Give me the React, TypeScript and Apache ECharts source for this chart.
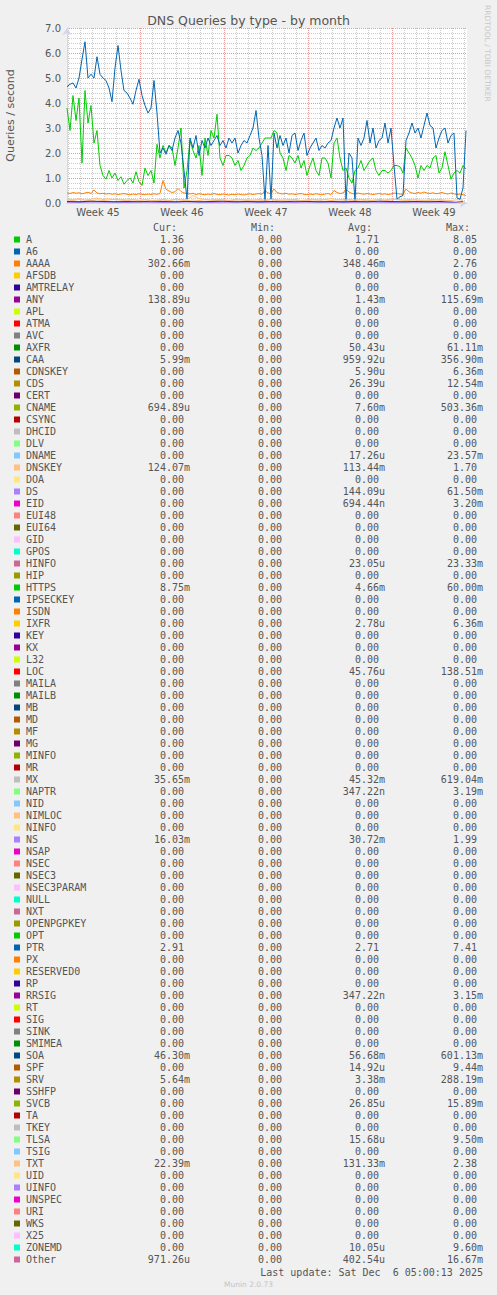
import React, { useEffect, useRef } from 'react';
import * as echarts from 'echarts';

// ---- time axis: hours since the left edge of the graph (2 hours per pixel, 800 h wide)
const WEEK_LABELS = ['Week 45', 'Week 46', 'Week 47', 'Week 48', 'Week 49'];
const WEEK_CENTERS = [62, 230, 398, 566, 734];
const Y_TICKS = ['0.0', '1.0', '2.0', '3.0', '4.0', '5.0', '6.0', '7.0'];

// ---- series values (queries / second)
// A and PTR: one value every 6 hours
const A_VALUES = [
  3.8, 2.9, 4.3, 3.3, 4.2, 1.6, 4.5, 3.2, 3.9, 2.4,
  2.9, 1.5, 1.1, 0.95, 1.3, 1.0, 1.2, 0.9, 1.05, 0.75,
  0.9, 1.0, 0.8, 1.25, 0.85, 0.7, 1.4, 1.1, 1.3, 0.8,
  2.35, 1.8, 2.3, 2.0, 2.3, 2.2,
  1.5, 2.2, 3.0, 0.6, 1.3, 2.5, 2.1, 1.8, 2.3, 1.1,
  2.6, 1.9, 2.9, 2.6, 3.55, 1.8, 1.5, 1.9, 1.9, 1.8,
  1.5, 1.7, 1.3, 1.5, 1.8, 1.9, 2.2, 2.1, 2.2, 2.4,
  2.6, 2.6, 2.6,
  2.9, 2.8, 2.0, 1.8, 1.3, 1.9, 1.8, 1.6, 1.9, 1.4,
  1.7, 1.1, 1.5, 1.8, 1.3, 1.1, 1.8, 1.8, 1.6, 1.0,
  2.4, 2.6, 1.8, 1.3, 1.4, 1.0, 0.8, 1.3, 1.4, 1.7,
  1.3, 1.5, 1.7, 1.8,
  1.3, 1.1, 1.3, 1.3, 1.2, 1.3, 1.5, 1.5, 1.45, 1.2,
  2.2, 2.0, 1.8, 1.5, 1.0, 1.5, 1.3, 1.5, 1.4, 1.8,
  1.9, 1.2, 1.4, 2.05, 1.5, 0.95, 1.2, 1.3, 1.2, 1.5,
  1.36,
];
const PTR_VALUES = [
  4.65, 4.75, 4.8, 4.6, 5.0, 5.75, 6.45, 5.0, 5.15, 5.0,
  5.85, 5.15, 5.0, 4.9, 4.6, 4.05, 5.4, 6.3, 5.3, 4.5,
  4.4, 4.2, 3.95, 4.5, 4.95, 4.3, 3.9, 3.6, 3.8, 4.9,
  3.6, 2.0, 2.2, 1.95, 2.3, 2.1,
  2.6, 2.9, 2.4, 1.3, 0.15, 2.6, 2.2, 2.7, 1.9, 2.5,
  2.2, 2.6, 2.3, 2.5, 2.7, 2.3, 2.5, 2.2, 2.6, 2.4,
  2.6, 2.0, 2.3, 2.5, 2.4, 2.7, 3.0, 3.7, 2.6, 1.9,
  0.1, 2.3, 0.15,
  2.8, 2.2, 2.7, 2.3, 2.6, 2.0, 2.7, 2.8, 2.1, 2.5,
  2.8, 1.9, 2.2, 2.4, 2.6, 2.1, 2.3, 2.2, 2.4, 2.5,
  3.0, 3.4, 3.0, 3.4, 0.1, 2.0, 1.8, 0.1, 2.6, 2.3,
  2.6, 3.3, 2.4, 3.0,
  2.2, 2.5, 2.6, 3.2, 2.4, 3.0, 1.5, 0.15, 0.25, 0.3,
  2.5, 2.8, 3.2, 2.8, 3.0, 2.6, 3.1, 3.6, 3.1, 3.0,
  2.2, 2.6, 2.9, 3.0, 2.4, 2.7, 2.8, 0.2, 0.15, 0.6,
  2.9,
];
const AAAA_VALUES = [
  0.40, 0.38, 0.42, 0.39, 0.41, 0.37, 0.40, 0.43, 0.38, 0.52,
  0.40, 0.37, 0.39, 0.36, 0.38, 0.35, 0.37, 0.34, 0.36, 0.38,
  0.35, 0.33, 0.36, 0.34, 0.37, 0.35, 0.33, 0.36, 0.34, 0.37,
  0.35, 0.38, 0.90, 0.55, 0.48, 0.42,
  0.45, 0.58, 0.46, 0.40, 0.38, 0.36, 0.39, 0.34, 0.37, 0.35,
  0.33, 0.36, 0.34, 0.38, 0.35, 0.33, 0.36, 0.34, 0.32, 0.35,
  0.33, 0.36, 0.34, 0.32, 0.35, 0.37, 0.34, 0.36, 0.38, 0.35,
  0.50, 0.40, 0.37,
  0.56, 0.42, 0.38, 0.36, 0.39, 0.35, 0.37, 0.34, 0.36, 0.38,
  0.35, 0.33, 0.36, 0.34, 0.37, 0.35, 0.33, 0.36, 0.38, 0.34,
  0.50, 0.42, 0.38, 0.40, 0.55, 0.44, 0.38, 0.36, 0.40, 0.37,
  0.35, 0.38, 0.36, 0.34,
  0.36, 0.38, 0.35, 0.37, 0.34, 0.36, 0.40, 0.38, 0.36, 0.35,
  0.56, 0.45, 0.40, 0.38, 0.42, 0.39, 0.44, 0.40, 0.38, 0.41,
  0.37, 0.39, 0.42, 0.38, 0.36, 0.40, 0.37, 0.34, 0.36, 0.33,
  0.30,
];
// DNSKEY and TXT: one value every 12 hours
const DNSKEY_VALUES = [
  0.12, 0.10, 0.14, 0.11, 0.09, 0.13, 0.10, 0.12, 0.15, 0.11,
  0.09, 0.12, 0.10, 0.13, 0.11, 0.08, 0.12, 0.10, 0.14, 0.11,
  0.09, 0.12, 0.10, 0.13, 0.11, 0.10, 0.12, 0.09, 0.11, 0.13,
  0.10, 0.12, 0.11, 0.09, 0.13, 0.10, 0.12, 0.11, 0.14, 0.10,
  0.09, 0.12, 0.11, 0.13, 0.10, 0.12, 0.15, 0.11, 0.10, 0.12,
  0.09, 0.11, 0.13, 0.10, 0.12, 0.16, 0.11, 0.10, 0.13, 0.12,
  0.10, 0.11, 0.14, 0.12, 0.10, 0.13, 0.12,
];
const TXT_VALUES = [
  0.16, 0.13, 0.18, 0.12, 0.15, 0.20, 0.14, 0.17, 0.13, 0.15,
  0.12, 0.14, 0.11, 0.13, 0.10, 0.12, 0.14, 0.11, 0.13, 0.15,
  0.12, 0.30, 0.18, 0.14, 0.12, 0.15, 0.13, 0.11, 0.14, 0.12,
  0.13, 0.11, 0.14, 0.12, 0.15, 0.13, 0.11, 0.14, 0.12, 0.10,
  0.13, 0.15, 0.12, 0.14, 0.18, 0.13, 0.11, 0.14, 0.12, 0.15,
  0.13, 0.11, 0.14, 0.12, 0.16, 0.13, 0.11, 0.14, 0.12, 0.10,
  0.12, 0.14, 0.11, 0.09, 0.08, 0.05, 0.02,
];
// MX, NS, SOA: one value a day
const MX_VALUES = [
  0.04, 0.05, 0.04, 0.06, 0.05, 0.04, 0.05, 0.03, 0.05, 0.04,
  0.06, 0.05, 0.04, 0.05, 0.04, 0.03, 0.05, 0.04, 0.06, 0.05,
  0.04, 0.05, 0.04, 0.05, 0.03, 0.04, 0.05, 0.06, 0.04, 0.05,
  0.04, 0.05, 0.04, 0.04,
];
const NS_VALUES = [
  0.03, 0.02, 0.04, 0.03, 0.03, 0.02, 0.04, 0.03, 0.02, 0.03,
  0.04, 0.03, 0.02, 0.03, 0.03, 0.04, 0.02, 0.03, 0.03, 0.02,
  0.04, 0.03, 0.03, 0.02, 0.03, 0.04, 0.03, 0.02, 0.03, 0.03,
  0.04, 0.03, 0.02, 0.02,
];
const SOA_VALUES = [
  0.06, 0.05, 0.07, 0.06, 0.05, 0.06, 0.05, 0.07, 0.06, 0.05,
  0.06, 0.05, 0.06, 0.07, 0.05, 0.06, 0.05, 0.06, 0.05, 0.07,
  0.06, 0.05, 0.06, 0.05, 0.06, 0.05, 0.07, 0.06, 0.05, 0.06,
  0.05, 0.06, 0.05, 0.05,
];

// ---- legend table
const NAMES = [
  'A', 'A6', 'AAAA', 'AFSDB', 'AMTRELAY', 'ANY', 'APL', 'ATMA', 'AVC', 'AXFR',
  'CAA', 'CDNSKEY', 'CDS', 'CERT', 'CNAME', 'CSYNC', 'DHCID', 'DLV', 'DNAME', 'DNSKEY',
  'DOA', 'DS', 'EID', 'EUI48', 'EUI64', 'GID', 'GPOS', 'HINFO', 'HIP', 'HTTPS',
  'IPSECKEY', 'ISDN', 'IXFR', 'KEY', 'KX', 'L32', 'LOC', 'MAILA', 'MAILB', 'MB',
  'MD', 'MF', 'MG', 'MINFO', 'MR', 'MX', 'NAPTR', 'NID', 'NIMLOC', 'NINFO',
  'NS', 'NSAP', 'NSEC', 'NSEC3', 'NSEC3PARAM', 'NULL', 'NXT', 'OPENPGPKEY', 'OPT', 'PTR',
  'PX', 'RESERVED0', 'RP', 'RRSIG', 'RT', 'SIG', 'SINK', 'SMIMEA', 'SOA', 'SPF',
  'SRV', 'SSHFP', 'SVCB', 'TA', 'TKEY', 'TLSA', 'TSIG', 'TXT', 'UID', 'UINFO',
  'UNSPEC', 'URI', 'WKS', 'X25', 'ZONEMD', 'Other',
];
const Z = '0.00';
const CUR = [
  '1.36', Z, '302.66m', Z, Z, '138.89u', Z, Z, Z, Z,
  '5.99m', Z, Z, Z, '694.89u', Z, Z, Z, Z, '124.07m',
  Z, Z, Z, Z, Z, Z, Z, Z, Z, '8.75m',
  Z, Z, Z, Z, Z, Z, Z, Z, Z, Z,
  Z, Z, Z, Z, Z, '35.65m', Z, Z, Z, Z,
  '16.03m', Z, Z, Z, Z, Z, Z, Z, Z, '2.91',
  Z, Z, Z, Z, Z, Z, Z, Z, '46.30m', Z,
  '5.64m', Z, Z, Z, Z, Z, Z, '22.39m', Z, Z,
  Z, Z, Z, Z, Z, '971.26u',
];
// every Min column entry reads 0.00
const MIN = NAMES.map(() => Z);
const AVG = [
  '1.71', Z, '348.46m', Z, Z, '1.43m', Z, Z, Z, '50.43u',
  '959.92u', '5.90u', '26.39u', Z, '7.60m', Z, Z, Z, '17.26u', '113.44m',
  Z, '144.09u', '694.44n', Z, Z, Z, Z, '23.05u', Z, '4.66m',
  Z, Z, '2.78u', Z, Z, Z, '45.76u', Z, Z, Z,
  Z, Z, Z, Z, Z, '45.32m', '347.22n', Z, Z, Z,
  '30.72m', Z, Z, Z, Z, Z, Z, Z, Z, '2.71',
  Z, Z, Z, '347.22n', Z, Z, Z, Z, '56.68m', '14.92u',
  '3.38m', Z, '26.85u', Z, Z, '15.68u', Z, '131.33m', Z, Z,
  Z, Z, Z, Z, '10.05u', '402.54u',
];
const MAX = [
  '8.05', Z, '2.76', Z, Z, '115.69m', Z, Z, Z, '61.11m',
  '356.90m', '6.36m', '12.54m', Z, '503.36m', Z, Z, Z, '23.57m', '1.70',
  Z, '61.50m', '3.20m', Z, Z, Z, Z, '23.33m', Z, '60.00m',
  Z, Z, '6.36m', Z, Z, Z, '138.51m', Z, Z, Z,
  Z, Z, Z, Z, Z, '619.04m', '3.19m', Z, Z, Z,
  '1.99', Z, Z, Z, Z, Z, Z, Z, Z, '7.41',
  Z, Z, Z, '3.15m', Z, Z, Z, Z, '601.13m', '9.44m',
  '288.19m', Z, '15.89m', Z, Z, '9.50m', Z, '2.38', Z, Z,
  Z, Z, Z, Z, '9.60m', '16.67m',
];

// munin's colour cycle
const PALETTE = [
  '#00CC00', '#0066B3', '#FF8000', '#FFCC00', '#330099', '#990099', '#CCFF00', '#FF0000',
  '#808080', '#008F00', '#00487D', '#B35A00', '#B38F00', '#6B006B', '#8FB300', '#B30000',
  '#BEBEBE', '#80FF80', '#80C9FF', '#FFC080', '#FFE680', '#AA80FF', '#EE00CC', '#FF8080',
  '#666600', '#FFBFFF', '#00FFCC', '#CC6699', '#999900',
];
const colorOf = (name: string) => PALETTE[NAMES.indexOf(name) % PALETTE.length];

const PLOTTED = [
  { name: 'A', values: A_VALUES, step: 6 },
  { name: 'AAAA', values: AAAA_VALUES, step: 6 },
  { name: 'DNSKEY', values: DNSKEY_VALUES, step: 12 },
  { name: 'MX', values: MX_VALUES, step: 24 },
  { name: 'NS', values: NS_VALUES, step: 24 },
  { name: 'PTR', values: PTR_VALUES, step: 6 },
  { name: 'SOA', values: SOA_VALUES, step: 24 },
  { name: 'TXT', values: TXT_VALUES, step: 12 },
];

const SANS = 'DejaVu Sans';
const MONO = 'DejaVu Sans Mono';
const TEXT = '#555555';

function buildGridLines() {
  // day lines every 24 h (first one 2 h in), week lines on Mondays
  const lines: any[] = [];
  for (let h = 2; h < 800; h += 24) {
    const isWeek = (h - 146) % 168 === 0;
    lines.push({
      xAxis: h,
      lineStyle: isWeek
        ? { color: '#E89A9A', type: [1, 1], width: 1 }
        : { color: '#CCCCCC', type: [1, 1], width: 1 },
    });
  }
  return lines;
}

function buildLegend() {
  const els: any[] = [];
  const top = 239.5;
  const row = 12;
  const charW = 6.02;
  const headers = [
    { t: 'Cur:', x: 177 },
    { t: 'Min:', x: 275 },
    { t: 'Avg:', x: 372 },
    { t: 'Max:', x: 470 },
  ];
  headers.forEach((h) =>
    els.push({
      type: 'text', x: h.x, y: 227,
      style: { text: h.t, fill: TEXT, fontFamily: MONO, fontSize: 10, align: 'right', verticalAlign: 'middle' },
    }),
  );
  const cols = [
    { vals: CUR, edge: 190 },
    { vals: MIN, edge: 288 },
    { vals: AVG, edge: 385 },
    { vals: MAX, edge: 483 },
  ];
  NAMES.forEach((name, i) => {
    const y = top + i * row;
    els.push({
      type: 'rect',
      shape: { x: 14, y: y - 3, width: 6, height: 6 },
      style: { fill: PALETTE[i % PALETTE.length] },
    });
    els.push({
      type: 'text', x: 26, y,
      style: { text: name, fill: TEXT, fontFamily: MONO, fontSize: 10, align: 'left', verticalAlign: 'middle' },
    });
    cols.forEach((c) => {
      const v = c.vals[i];
      const hasUnit = /[a-z]$/i.test(v);
      els.push({
        type: 'text', x: hasUnit ? c.edge : c.edge - charW, y,
        style: { text: v, fill: TEXT, fontFamily: MONO, fontSize: 10, align: 'right', verticalAlign: 'middle' },
      });
    });
  });
  els.push({
    type: 'text', x: 483, y: 1272,
    style: {
      text: 'Last update: Sat Dec \u00A06 05:00:13 2025',
      fill: TEXT, fontFamily: MONO, fontSize: 10, align: 'right', verticalAlign: 'middle',
    },
  });
  els.push({
    type: 'text', x: 248.5, y: 1284,
    style: { text: 'Munin 2.0.73', fill: '#C4C4C4', fontFamily: SANS, fontSize: 7.5, align: 'center', verticalAlign: 'middle' },
  });
  els.push({
    type: 'text', x: 487, y: 5, rotation: -Math.PI / 2,
    style: { text: 'RRDTOOL / TOBI OETIKER', fill: '#C8C8C8', fontFamily: SANS, fontSize: 7.5, align: 'left', verticalAlign: 'middle' },
  });
  return els;
}

function buildOption(): echarts.EChartsOption {
  const lineSeries: any[] = PLOTTED.map((s) => ({
    type: 'line',
    name: s.name,
    data: s.values.map((v, i) => [i * s.step, v]),
    showSymbol: false,
    symbol: 'none',
    silent: true,
    z: 2,
    lineStyle: { width: 1, color: colorOf(s.name) },
    itemStyle: { color: colorOf(s.name) },
  }));

  return {
    animation: false,
    backgroundColor: '#F0F0F0',
    title: {
      text: 'DNS Queries by type - by month',
      left: 'center',
      top: 9,
      textStyle: { fontFamily: SANS, fontSize: 12.5, fontWeight: 'normal', color: TEXT },
    },
    grid: {
      left: 67, top: 28, width: 400, height: 175,
      show: true, backgroundColor: '#FFFFFF', borderWidth: 0,
      outerBoundsMode: 'none',
    } as any,
    xAxis: {
      type: 'value',
      min: 0,
      max: 800,
      axisLine: { show: true, lineStyle: { color: '#CFD6F8' }, symbol: ['none', 'arrow'], symbolSize: [7, 7] },
      axisTick: { show: false },
      splitLine: { show: false },
      axisLabel: {
        customValues: WEEK_CENTERS,
        formatter: (v: number) => WEEK_LABELS[WEEK_CENTERS.indexOf(v)] ?? '',
        color: TEXT, fontFamily: SANS, fontSize: 10, margin: 4,
      },
    } as any,
    yAxis: {
      type: 'value',
      min: 0,
      max: 7,
      interval: 1,
      name: 'Queries / second',
      nameLocation: 'middle',
      nameGap: 51,
      nameTextStyle: { color: TEXT, fontFamily: SANS, fontSize: 11 },
      axisLine: { show: true, lineStyle: { color: '#CFD6F8' }, symbol: ['none', 'arrow'], symbolSize: [7, 7] },
      axisTick: { show: false },
      axisLabel: {
        formatter: (v: number) => Y_TICKS[Math.round(v)] ?? '',
        color: TEXT, fontFamily: SANS, fontSize: 10, margin: 6,
      },
      splitLine: { show: true, lineStyle: { color: '#E89A9A', type: [1, 1], width: 1 } },
      minorTick: { show: false, splitNumber: 5 },
      minorSplitLine: { show: true, lineStyle: { color: '#CCCCCC', type: [1, 1], width: 1 } },
    } as any,
    series: [
      {
        type: 'line',
        name: 'grid',
        data: [],
        silent: true,
        markLine: {
          silent: true,
          z: 1,
          symbol: ['none', 'none'],
          label: { show: false },
          emphasis: { disabled: true },
          data: buildGridLines(),
        },
      },
      ...lineSeries,
    ],
    graphic: buildLegend(),
  };
}

export default function App() {
  const chartRef = useRef<HTMLDivElement>(null);

  useEffect(() => {
    document.body.style.margin = '0';
    document.body.style.background = '#F0F0F0';
    if (!chartRef.current) return;
    const chart = echarts.init(chartRef.current, undefined, { renderer: 'svg' });
    chart.setOption(buildOption());
    return () => {
      chart.dispose();
    };
  }, []);

  return <div ref={chartRef} style={{ width: 497, height: 1295 }} />;
}
